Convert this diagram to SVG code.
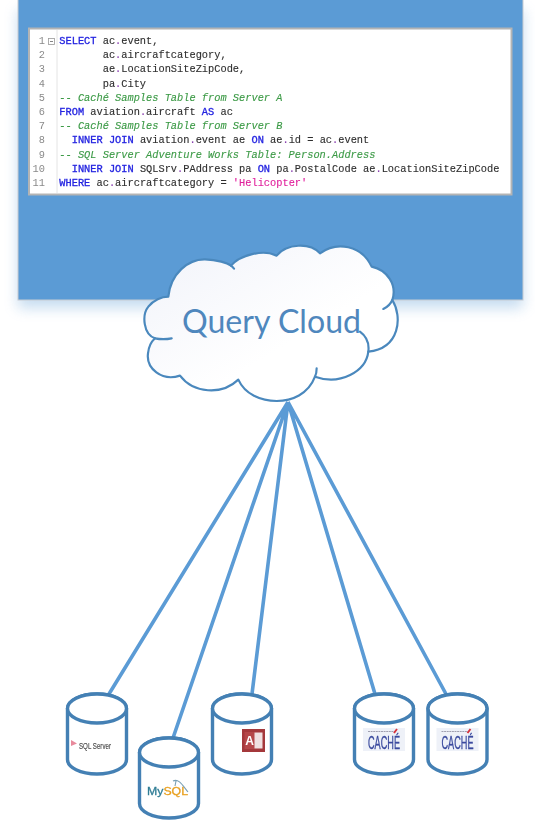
<svg xmlns="http://www.w3.org/2000/svg" width="535" height="832" viewBox="0 0 535 832">
<style>
.code{font-family:"Liberation Mono","DejaVu Sans Mono",monospace;font-size:10.33px;fill:#2e2e2e;stroke:#2e2e2e;stroke-width:0.12px;white-space:pre}
.num{font-family:"Liberation Mono","DejaVu Sans Mono",monospace;font-size:10.33px;fill:#8a8a8a;text-anchor:end}
.k{fill:#2222e0;stroke:#2222e0;stroke-width:0.3px}
.c{fill:#3c9a46;stroke:#3c9a46;font-style:italic}
.s{fill:#e0209c;stroke:#e0209c}
.p{fill:#8a3fb0;stroke:#8a3fb0}
.conn{stroke:#5b9bd5;stroke-width:3.6;fill:none}
.cyl{fill:#fff;stroke:#4480b4;stroke-width:3.4}
.cache{font-family:"Liberation Sans Narrow","Liberation Sans",sans-serif;font-size:19px;fill:#3a4a9e;stroke:#3a4a9e;stroke-width:0.35px}
</style>
<defs>
<filter id="soft" x="-2%" y="-2%" width="104%" height="104%"><feGaussianBlur stdDeviation="0.4"/></filter>
<filter id="logoblur" x="-10%" y="-10%" width="120%" height="120%"><feGaussianBlur stdDeviation="0.5"/></filter>
<filter id="shadow" x="-6%" y="-6%" width="112%" height="120%"><feGaussianBlur stdDeviation="7"/></filter>
<linearGradient id="cloudfill" x1="0" y1="0" x2="1" y2="1"><stop offset="0" stop-color="#f1f3fa"/><stop offset="0.6" stop-color="#ffffff"/></linearGradient>
<g id="cylinder">
<path class="cyl" d="M0 14.5C0 6.5 13 0 29.5 0S59 6.5 59 14.5V65.5C59 73.5 46 80 29.5 80S0 73.5 0 65.5Z"/>
<ellipse class="cyl" cx="29.5" cy="14.5" rx="29.5" ry="14.5"/>
</g>
<g id="cachelogo" filter="url(#logoblur)">
<rect x="0" y="0" width="42" height="23" fill="#eef1f8"/>
<path d="M5 3.500H33" stroke="#a0a0b0" stroke-width="1.200" stroke-dasharray="2 0.6" fill="none"/>
<text class="cache" x="5" y="20.500" textLength="32" lengthAdjust="spacingAndGlyphs">CACHÉ</text>
<path d="M31 5L34 1" stroke="#d8303a" stroke-width="1.800" fill="none"/>
</g>
</defs>

<rect id="panel-shadow" x="18" y="10" width="505" height="298" fill="#5b9bd5" opacity="0.35" filter="url(#shadow)"/>
<rect id="panel" x="18" y="-2" width="505" height="302" fill="#5b9bd5" stroke="#c8ccd2" stroke-width="1"/>

<g id="code-window">
<rect x="29" y="28.500" width="482.500" height="166" fill="#fff" stroke="#b4b4b4" stroke-width="2"/>
<path d="M57 30V193" stroke="#e4e4e4" stroke-width="1"/>
<rect x="48.500" y="38.500" width="6" height="6" fill="#fff" stroke="#999" stroke-width="0.8"/>
<path d="M50 41.500H53" stroke="#666" stroke-width="0.8"/>
<g filter="url(#soft)">
<text class="num" x="45" y="44">1</text>
<text class="num" x="45" y="58.200">2</text>
<text class="num" x="45" y="72.400">3</text>
<text class="num" x="45" y="86.600">4</text>
<text class="num" x="45" y="100.800">5</text>
<text class="num" x="45" y="115">6</text>
<text class="num" x="45" y="129.200">7</text>
<text class="num" x="45" y="143.400">8</text>
<text class="num" x="45" y="157.600">9</text>
<text class="num" x="45" y="171.800">10</text>
<text class="num" x="45" y="186">11</text>
<text class="code" x="59.300" y="44" xml:space="preserve"><tspan class="k">SELECT</tspan> ac<tspan class="p">.</tspan>event,</text>
<text class="code" x="59.300" y="58.200" xml:space="preserve">       ac<tspan class="p">.</tspan>aircraftcategory,</text>
<text class="code" x="59.300" y="72.400" xml:space="preserve">       ae<tspan class="p">.</tspan>LocationSiteZipCode,</text>
<text class="code" x="59.300" y="86.600" xml:space="preserve">       pa<tspan class="p">.</tspan>City</text>
<text class="code c" x="59.300" y="100.800" xml:space="preserve">-- Caché Samples Table from Server A</text>
<text class="code" x="59.300" y="115" xml:space="preserve"><tspan class="k">FROM</tspan> aviation<tspan class="p">.</tspan>aircraft <tspan class="k">AS</tspan> ac</text>
<text class="code c" x="59.300" y="129.200" xml:space="preserve">-- Caché Samples Table from Server B</text>
<text class="code" x="59.300" y="143.400" xml:space="preserve">  <tspan class="k">INNER JOIN</tspan> aviation<tspan class="p">.</tspan>event ae <tspan class="k">ON</tspan> ae<tspan class="p">.</tspan>id = ac<tspan class="p">.</tspan>event</text>
<text class="code c" x="59.300" y="157.600" xml:space="preserve">-- SQL Server Adventure Works Table: Person.Address</text>
<text class="code" x="59.300" y="171.800" xml:space="preserve">  <tspan class="k">INNER JOIN</tspan> SQLSrv<tspan class="p">.</tspan>PAddress pa <tspan class="k">ON</tspan> pa<tspan class="p">.</tspan>PostalCode ae<tspan class="p">.</tspan>LocationSiteZipCode</text>
<text class="code" x="59.300" y="186" xml:space="preserve"><tspan class="k">WHERE</tspan> ac<tspan class="p">.</tspan>aircraftcategory = <tspan class="s">'Helicopter'</tspan></text>
</g>
</g>

<g id="connectors">
<path class="conn" d="M288 402L109 694M288 402L173 738M288 402L252 694M288 402L375 694M288 402L446 694"/>
</g>

<g id="query-cloud">
<g transform="translate(130 235) scale(0.3333)">
<path fill="url(#cloudfill)" stroke="#4a88bd" stroke-width="6.500" stroke-linejoin="round" d="M115 185C122 115 175 72 225 73C262 74 292 84 303 92C330 60 400 42 440 62C470 25 540 22 570 55C620 18 695 30 725 95C772 105 802 150 787 195C818 245 810 340 715 350C708 410 630 452 555 425C535 478 485 498 440 498C392 498 345 478 325 434C275 482 190 475 150 422C95 440 48 400 54 355C56 335 64 320 75 310C40 298 35 240 55 215C70 195 95 185 115 185Z"/>
<path fill="none" stroke="#4a88bd" stroke-width="6.500" stroke-linecap="round" d="M303 92Q308 96 312 101M75 310Q100 315 125 310M787 195Q780 212 760 222M715 350Q720 312 690 290M555 425Q560 415 560 400"/>
</g>
<text x="182" y="333" textLength="179" lengthAdjust="spacingAndGlyphs" font-family="Lato,'Open Sans',sans-serif" font-size="32" fill="#4f87bd">Query Cloud</text>
</g>

<g id="db-sqlserver">
<use href="#cylinder" x="67.500" y="694"/>
<g filter="url(#logoblur)">
<path d="M71 740L77 743.500L71 746Z" fill="#e88a9c"/>
<text x="79" y="749" textLength="32" lengthAdjust="spacingAndGlyphs" font-family="'Liberation Sans',sans-serif" font-size="8.500" fill="#4a4a4a" stroke="#4a4a4a" stroke-width="0.15">SQL Server</text>
</g>
</g>

<g id="db-mysql">
<use href="#cylinder" x="139.500" y="738"/>
<g filter="url(#logoblur)">
<text x="147" y="795" textLength="41" lengthAdjust="spacingAndGlyphs" font-family="'Liberation Sans',sans-serif" font-size="11" stroke-width="0.3"><tspan fill="#2f7d95" stroke="#2f7d95">My</tspan><tspan fill="#e8a020" stroke="#e8a020">SQL</tspan></text>
<path d="M173 781C179 778 183 786 188 792M176 781L175 786" stroke="#7aa0b5" stroke-width="1.100" fill="none"/>
</g>
</g>

<g id="db-access">
<use href="#cylinder" x="212.500" y="694"/>
<g filter="url(#logoblur)">
<rect x="242" y="729" width="23" height="23" fill="#a4373a"/>
<rect x="253" y="732.500" width="9.500" height="16" fill="#f0e0e0"/>
<rect x="244.500" y="732" width="10" height="17" fill="#b5474a"/>
<text x="249.500" y="745" text-anchor="middle" font-family="'Liberation Sans',sans-serif" font-size="12" font-weight="bold" fill="#fff">A</text>
</g>
</g>

<g id="db-cache-a">
<use href="#cylinder" x="354.500" y="694"/>
<use href="#cachelogo" x="363" y="728"/>
</g>

<g id="db-cache-b">
<use href="#cylinder" x="428" y="694"/>
<use href="#cachelogo" x="436.500" y="728"/>
</g>
</svg>
